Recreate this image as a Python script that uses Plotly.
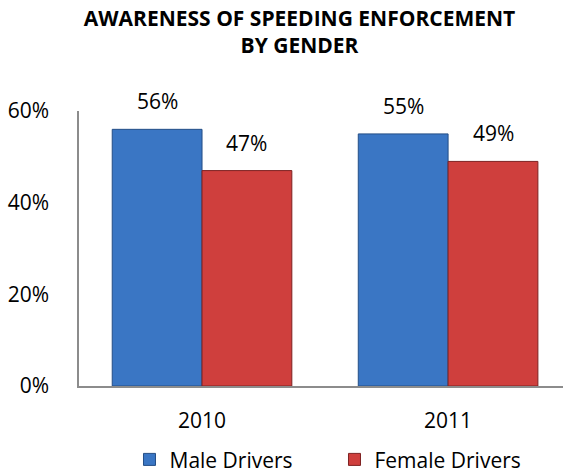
import plotly.graph_objects as go

years = ["2010", "2011"]
male = [0.56, 0.55]
female = [0.47, 0.49]
series_names = ["Male Drivers", "Female Drivers"]
y_ticks = [0, 0.2, 0.4, 0.6]
y_tick_labels = ["0%", "20%", "40%", "60%"]

FONT = "Open Sans"
TXT = 21
BLUE = "#3A76C4"
BLUE_EDGE = "#244E86"
RED = "#CF3F3D"
RED_EDGE = "#7E2222"

BARGAP = 0.27
half_bar = (1 - BARGAP) / 4  # offset from category centre to each bar centre

fig = go.Figure()
fig.add_trace(go.Bar(
    x=years, y=male, name=series_names[0],
    marker=dict(color=BLUE, line=dict(color=BLUE_EDGE, width=1)),
))
fig.add_trace(go.Bar(
    x=years, y=female, name=series_names[1],
    marker=dict(color=RED, line=dict(color=RED_EDGE, width=1)),
))

# value labels above each bar
for i, yr in enumerate(years):
    for vals, sign in ((male, -1), (female, 1)):
        fig.add_annotation(
            x=i + sign * half_bar, y=vals[i], xref="x", yref="y",
            text=f"{round(vals[i] * 100)}%", showarrow=False,
            yanchor="bottom", yshift=12,
            font=dict(family=FONT, size=TXT, color="#000000"),
        )

fig.update_layout(
    width=563, height=473,
    margin=dict(l=79, r=0, t=111, b=87, autoexpand=False),
    paper_bgcolor="white", plot_bgcolor="white",
    barmode="group", bargap=BARGAP, bargroupgap=0,
    title=dict(
        text="<b>AWARENESS OF SPEEDING ENFORCEMENT<br>BY GENDER</b>",
        x=0.532, xanchor="center", y=0.945, yanchor="middle",
        font=dict(family=FONT, size=21, color="#000000"),
    ),
    font=dict(family=FONT, size=TXT, color="#000000"),
    showlegend=True,
    legend=dict(
        orientation="h", xref="container", yref="container",
        x=0.23, xanchor="left", y=0.028, yanchor="middle",
        font=dict(family=FONT, size=TXT, color="#000000"),
        itemwidth=30, tracegroupgap=0,
        entrywidth=160, entrywidthmode="pixels",
    ),
    xaxis=dict(
        type="category", range=[-0.5, 1.467],
        showline=True, linecolor="#8C8C8C", linewidth=1.5,
        ticks="", showgrid=False, zeroline=False,
        ticklabelstandoff=15,
        tickfont=dict(family=FONT, size=TXT),
    ),
    yaxis=dict(
        range=[0, 0.6], tickvals=y_ticks, ticktext=y_tick_labels,
        showline=True, linecolor="#8C8C8C", linewidth=1.5,
        ticks="", showgrid=False, zeroline=False,
        ticklabelstandoff=24,
        tickfont=dict(family=FONT, size=TXT),
    ),
)

fig.write_html("out.html")
